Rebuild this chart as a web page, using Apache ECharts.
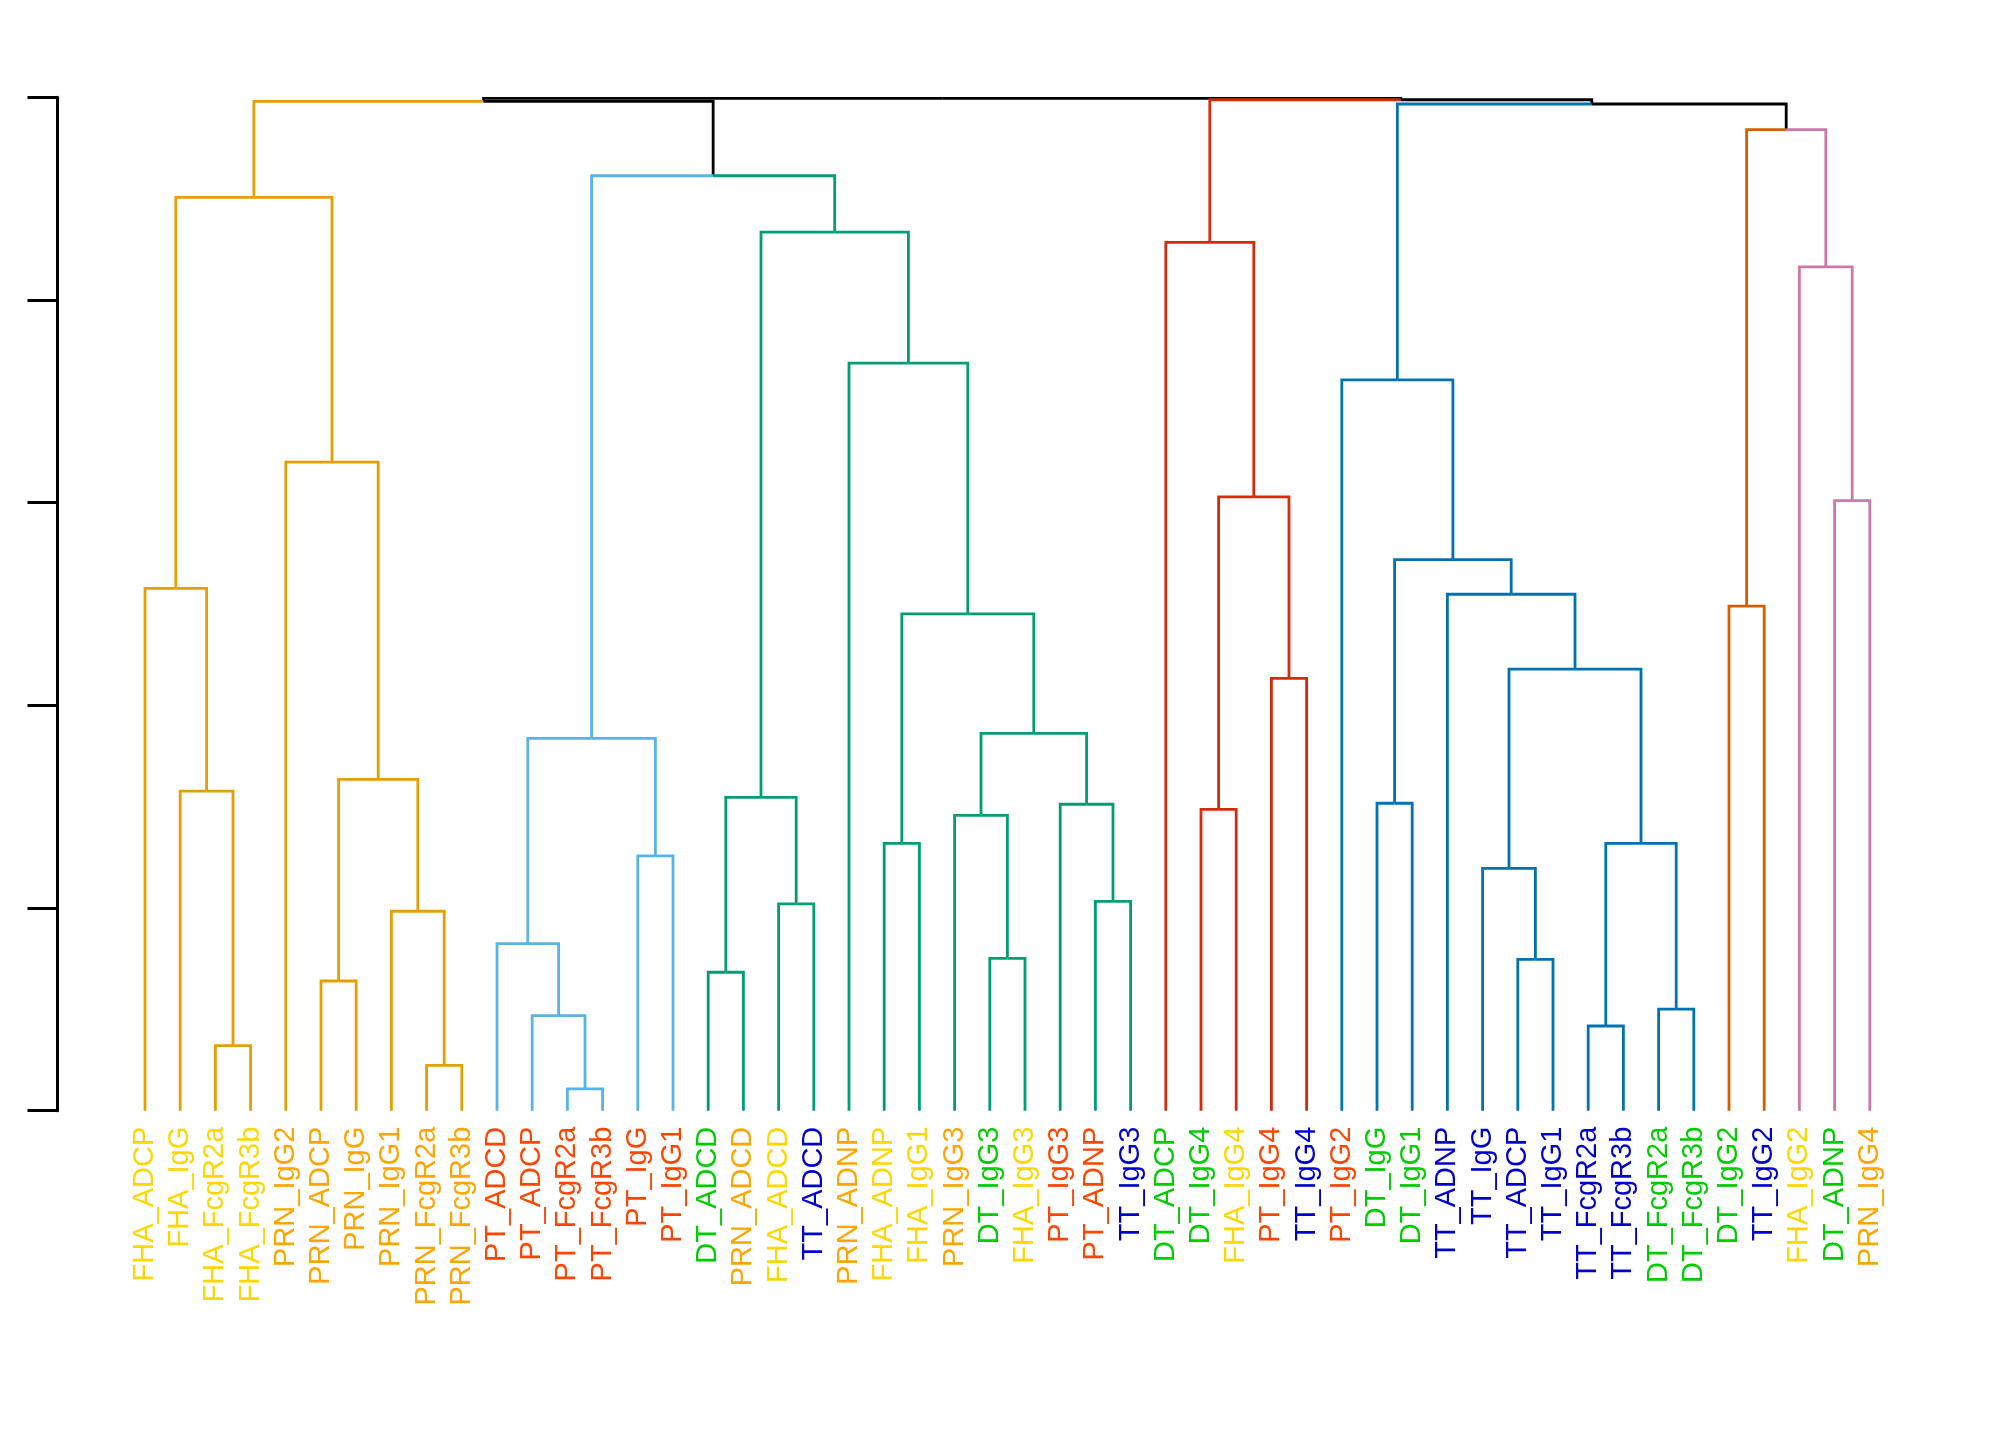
<!DOCTYPE html>
<html>
<head>
<meta charset="utf-8">
<script src="https://cdn.jsdelivr.net/npm/echarts@6/dist/echarts.min.js"></script>
<style>
  html, body { margin: 0; padding: 0; background: #fff; }
  #chart { width: 2016px; height: 1440px; }
</style>
</head>
<body>
<div id="chart"></div>
<script>
// leaf labels, left to right
const leaves = [
  'FHA_ADCP', 'FHA_IgG', 'FHA_FcgR2a', 'FHA_FcgR3b', 'PRN_IgG2', 'PRN_ADCP', 'PRN_IgG', 'PRN_IgG1',
  'PRN_FcgR2a', 'PRN_FcgR3b', 'PT_ADCD', 'PT_ADCP', 'PT_FcgR2a', 'PT_FcgR3b', 'PT_IgG', 'PT_IgG1',
  'DT_ADCD', 'PRN_ADCD', 'FHA_ADCD', 'TT_ADCD', 'PRN_ADNP', 'FHA_ADNP', 'FHA_IgG1', 'PRN_IgG3',
  'DT_IgG3', 'FHA_IgG3', 'PT_IgG3', 'PT_ADNP', 'TT_IgG3', 'DT_ADCP', 'DT_IgG4', 'FHA_IgG4',
  'PT_IgG4', 'TT_IgG4', 'PT_IgG2', 'DT_IgG', 'DT_IgG1', 'TT_ADNP', 'TT_IgG', 'TT_ADCP',
  'TT_IgG1', 'TT_FcgR2a', 'TT_FcgR3b', 'DT_FcgR2a', 'DT_FcgR3b', 'DT_IgG2', 'TT_IgG2', 'FHA_IgG2',
  'DT_ADNP', 'PRN_IgG4'
]

// hclust style merges: negative = leaf number, positive = earlier merge number
const merges = [
  [-3, -4], [-2, 1], [-1, 2], [-9, -10], [-8, 4], [-6, -7], [6, 5], [-5, 7], [3, 8],
  [-13, -14], [-12, 10], [-11, 11], [-15, -16], [12, 13],
  [-17, -18], [-19, -20], [15, 16], [-22, -23], [-25, -26], [-24, 19], [-28, -29], [-27, 21],
  [20, 22], [18, 23], [-21, 24], [17, 25],
  [14, 26], [9, 27],
  [-31, -32], [-33, -34], [29, 30], [-30, 31],
  [-36, -37], [-40, -41], [-39, 34], [-42, -43], [-44, -45], [36, 37], [35, 38], [-38, 39],
  [33, 40], [-35, 41],
  [-46, -47], [-49, -50], [-48, 44], [43, 45], [42, 46], [32, 47], [28, 48]
]
const heights = [
  0.321, 1.577, 2.577, 0.224, 0.984, 0.640, 1.635, 3.200, 4.506,
  0.108, 0.469, 0.824, 1.257, 1.837,
  0.683, 1.020, 1.546, 1.319, 0.752, 1.457, 1.033, 1.512,
  1.862, 2.451, 3.688, 4.335,
  4.613, 4.980,
  1.487, 2.133, 3.029, 4.284,
  1.517, 0.747, 1.196, 0.418, 0.501, 1.319, 2.179, 2.548,
  2.719, 3.606,
  2.490, 3.010, 4.163, 4.841, 4.967, 4.988, 4.995
]

// clusters (merge number at top of each coloured branch) and their colours
const clusterNodes = [9, 14, 26, 32, 42, 43, 45]
const clusterColors = ['#E69F00', '#56B4E9', '#009E73', '#D62B0B', '#0072B2', '#D55E00', '#CC79A7']

// label colour by antigen
const antigens = ['FHA', 'PRN', 'PT', 'DT', 'TT']
const antigenColors = ['#FFD700', '#FFA500', '#FF4500', '#00CD00', '#0000CD']

const yTicks = [0, 1, 2, 3, 4, 5]

// x of each merge = midpoint of its two children
const nodeX = []
function xOf(ref) { return ref < 0 ? -ref : nodeX[ref - 1] }
function hOf(ref) { return ref < 0 ? 0 : heights[ref - 1] }
merges.forEach((m, i) => { nodeX[i] = (xOf(m[0]) + xOf(m[1])) / 2 })

// walk from the root, parent edges first (like plot.dendrogram)
const edges = []
function walk(node, color) {
  const px = xOf(node), ph = hOf(node)
  merges[node - 1].forEach(child => {
    let c = color
    if (child > 0 && clusterNodes.indexOf(child) >= 0) c = clusterColors[clusterNodes.indexOf(child)]
    edges.push({
      coords: [[px, ph], [xOf(child), ph], [xOf(child), hOf(child)]],
      lineStyle: { color: c }
    })
    if (child > 0) walk(child, c)
  })
}
walk(merges.length, '#000000')

const fontFamily = 'Liberation Sans, Arial, sans-serif'
const rich = {}
antigens.forEach((a, i) => {
  rich[a] = { color: antigenColors[i], fontSize: 29, fontFamily: fontFamily }
})

const step = 35.2
const firstLeafX = 145

const chart = echarts.init(document.getElementById('chart'), null, { renderer: 'canvas' })
chart.setOption({
  animation: false,
  backgroundColor: '#ffffff',
  grid: { left: firstLeafX - 2 * step, width: 53 * step, top: 97.3, height: 1013.4, containLabel: false },
  xAxis: {
    type: 'value', min: -1, max: 52, interval: 1,
    axisLine: { show: false }, axisTick: { show: false }, splitLine: { show: false },
    axisLabel: {
      rotate: 90, margin: 16, fontSize: 29, fontFamily: fontFamily,
      showMinLabel: true, showMaxLabel: true,
      formatter: v => {
        const name = leaves[v - 1]
        if (!name) return ''
        return '{' + name.split('_')[0] + '|' + name + '}'
      },
      rich: rich
    }
  },
  yAxis: {
    type: 'value', min: yTicks[0], max: yTicks[yTicks.length - 1], interval: 1,
    offset: firstLeafX - 2 * step - 57.5,
    axisLine: { show: true, onZero: false, lineStyle: { color: '#000', width: 3 } },
    axisTick: { show: true, length: 30, lineStyle: { color: '#000', width: 3 } },
    axisLabel: { show: false },
    splitLine: { show: false }
  },
  series: [{
    type: 'lines',
    coordinateSystem: 'cartesian2d',
    polyline: true,
    silent: true,
    lineStyle: { width: 2.8, opacity: 1, cap: 'butt', join: 'miter' },
    data: edges
  }]
})
</script>
</body>
</html>
